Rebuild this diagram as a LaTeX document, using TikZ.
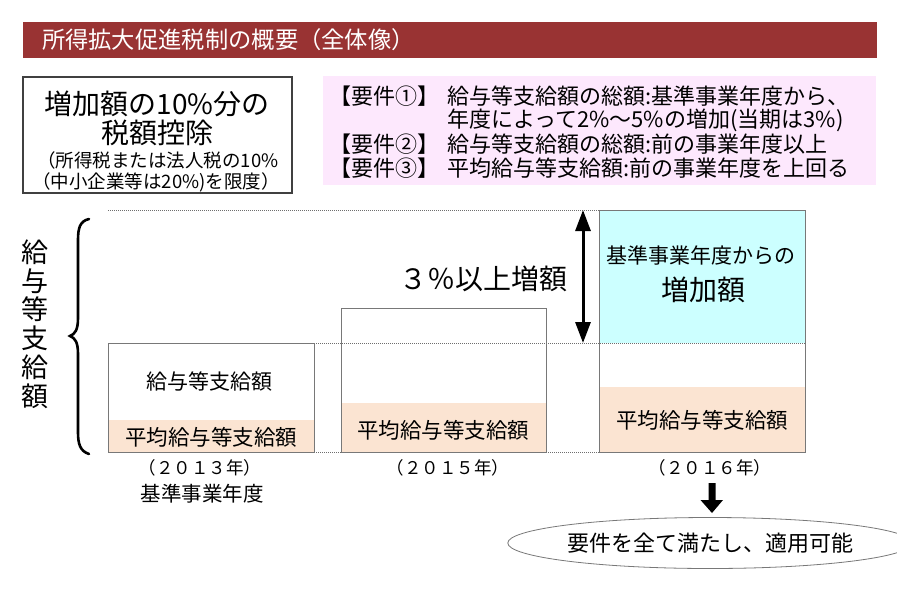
\documentclass[tikz,border=0pt]{standalone}
\usepackage{fontspec}
\setmainfont{Noto Sans CJK JP}
\usetikzlibrary{arrows.meta,shapes.geometric}
\definecolor{titlered}{RGB}{153,51,51}
\definecolor{pinkbg}{RGB}{253,232,253}
\definecolor{cyanbg}{RGB}{204,255,255}
\definecolor{peach}{RGB}{251,228,210}
\definecolor{boxgray}{RGB}{120,120,120}
\definecolor{dotgray}{RGB}{110,110,110}
\newcommand\fsz[1]{\fontsize{#1}{#1}\selectfont}
\tikzset{
  txt/.style={inner sep=0pt, outer sep=0pt},
  barbox/.style={draw=boxgray, line width=0.9pt},
  dotline/.style={draw=dotgray, line width=0.8pt, dash pattern=on 1pt off 1pt},
  reqlabel/.style={txt, anchor=west, font=\fsz{22}},
  yearlabel/.style={txt, font=\fsz{17.5}},
}
\begin{document}
\begin{tikzpicture}[x=1pt,y=-1pt]
\useasboundingbox[fill=white] (0,0) rectangle (897,592);

% title bar
\fill[titlered] (23,22) rectangle (877,58);
\node[txt, anchor=west, text=white, font=\fsz{23.3}] (title) at (42,40) {所得拡大促進税制の概要（全体像）};

% left box
\draw[draw=black!75, line width=1.3pt] (23,77) rectangle (292,193);
\node[txt, font=\fsz{28}] (lb1) at (157,104) {増加額の10\%分の};
\node[txt, font=\fsz{28}] (lb2) at (157,133) {税額控除};
\node[txt, font=\fsz{18.5}] (lb3) at (158,160) {（所得税または法人税の10\%};
\node[txt, font=\fsz{18.5}] (lb4) at (156,182) {（中小企業等は20\%)を限度）};

% requirement box
\fill[pinkbg] (323,76) rectangle (876,185);
\node[reqlabel] (r1) at (329,96) {【要件①】};
\node[reqlabel] (t1) at (447,96) {給与等支給額の総額:基準事業年度から、};
\node[reqlabel] (t2) at (447,120) {年度によって2\%～5\%の増加(当期は3\%)};
\node[reqlabel] (r2) at (329,144) {【要件②】};
\node[reqlabel] (t3) at (447,144) {給与等支給額の総額:前の事業年度以上};
\node[reqlabel] (r3) at (329,168) {【要件③】};
\node[reqlabel] (t4) at (447,168) {平均給与等支給額:前の事業年度を上回る};

% fills
\fill[peach] (108,420) rectangle (314,452);
\fill[peach] (341,403) rectangle (546,452);
\fill[cyanbg] (599,210) rectangle (805,343);
\fill[peach] (599,387) rectangle (805,452);

% dotted guide lines
\draw[dotline] (108,210) -- (599,210);
\draw[dotline] (108,343) -- (805,343);
\draw[dotline] (108,452) -- (805,452);

% bars
\draw[barbox] (108,343) rectangle (314,452);
\draw[barbox] (341,308) rectangle (546,452);
\draw[barbox] (599,210) rectangle (805,452);

% bar texts
\node[txt, font=\fsz{21}] (a1) at (209,381) {給与等支給額};
\node[txt, font=\fsz{21.5}] (a2) at (211,437) {平均給与等支給額};
\node[yearlabel] (ay) at (200,468) {（２０１３年）};
\node[txt, font=\fsz{20.5}] (ab) at (202,494) {基準事業年度};
\node[txt, font=\fsz{21.5}] (b1) at (443,430) {平均給与等支給額};
\node[yearlabel] (by) at (448,468) {（２０１５年）};
\node[txt, font=\fsz{21}] (c1) at (701,255) {基準事業年度からの};
\node[txt, font=\fsz{28}] (c2) at (703,290) {増加額};
\node[txt, font=\fsz{21.5}] (c3) at (702,420) {平均給与等支給額};
\node[yearlabel] (cy) at (710,468) {（２０１６年）};
\node[txt, font=\fsz{28}] (inc) at (483,279) {３％以上増額};

% vertical label and brace
\node[txt, font=\fontsize{27}{28.8}\selectfont, align=center] (vlab) at (35,324) {給\\与\\等\\支\\給\\額};
\draw[line width=2.6pt, line cap=round] (89,219) .. controls (80,221) and (78,228) .. (78,240)
  -- (78,318) .. controls (78,330) and (75,334) .. (70,336)
  .. controls (75,338) and (78,342) .. (78,354)
  -- (78,432) .. controls (78,444) and (80,451) .. (89,454);

% double arrow
\coordinate (arT) at (583,210);
\coordinate (arB) at (583,343);
\draw[line width=3pt, {Triangle[width=15pt,length=21pt]}-{Triangle[width=15pt,length=21pt]}] (arT) -- (arB);

% block arrow down
\coordinate (dn) at (712,483);
\fill (dn) ++(-3.5,0) -- ++(7,0) -- ++(0,17) -- ++(7.5,0) -- (712,513) -- (700.5,500) -- (708.5,500) -- cycle;

% result ellipse
\node[ellipse, draw=boxgray, line width=0.8pt, minimum width=330pt, minimum height=51pt, inner sep=0pt, font=\fsz{22}] (res) at (710,543) {要件を全て満たし、適用可能};
\end{tikzpicture}
\end{document}
